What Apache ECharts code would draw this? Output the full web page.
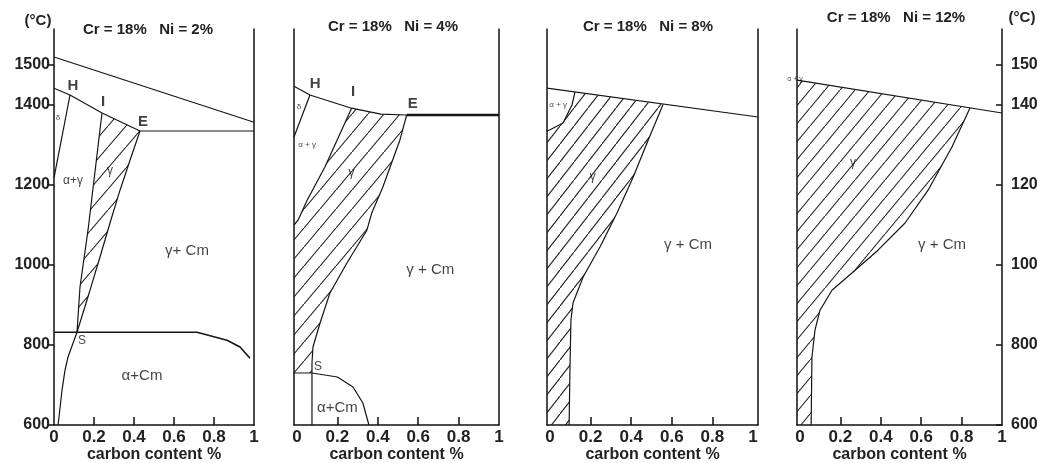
<!DOCTYPE html>
<html>
<head>
<meta charset="utf-8">
<title>Fe-Cr-Ni-C sections</title>
<script src="https://cdn.jsdelivr.net/npm/echarts@6/dist/echarts.min.js"></script>
<style>
  html, body { margin: 0; padding: 0; background: #fff; }
  #chart { width: 1038px; height: 463px; }
</style>
</head>
<body>
<div id="chart"></div>
<script>
// four sections, Cr = 18%, Ni = 2 / 4 / 8 / 12 %
var titles = ['Cr = 18%   Ni = 2%', 'Cr = 18%   Ni = 4%', 'Cr = 18%   Ni = 8%', 'Cr = 18%   Ni = 12%'];
var xTicks = [0, 0.2, 0.4, 0.6, 0.8, 1];
var xInnerTicks = [0.2, 0.4, 0.6, 0.8];
var tempTicks = [600, 800, 1000, 1200, 1400, 1500];

// panel 1 (Ni = 2%)
var p1Liquidus = [[0, 1520], [1, 1357]];
var p1Upper = [[0, 1442], [0.08, 1425], [0.24, 1380], [0.43, 1335]];
var p1Horiz = [[0.43, 1335], [1, 1335]];
var p1H = [[0.08, 1425], [0, 1218]];
var p1GammaLeft = [[0.24, 1380], [0.17, 1087], [0.13, 945], [0.115, 832]];
var p1GammaRight = [[0.43, 1335], [0.38, 1262], [0.33, 1187], [0.28, 1105], [0.23, 1020], [0.18, 937], [0.115, 832]];
var p1BelowS = [[0.115, 832], [0.07, 770], [0.055, 737], [0.04, 687], [0.025, 620], [0.02, 600]];
var p1Eutectoid = [[0, 832], [0.715, 832], [0.865, 812], [0.93, 795], [0.98, 767]];
var p1Text = [[0.665, 1035, 'γ+ Cm'], [0.44, 722, 'α+Cm']];
var p1Letters = [[0.095, 1447, 'H'], [0.245, 1409, 'I'], [0.445, 1359, 'E']];
var p1Small = [[0.28, 1237, 'γ'], [0.095, 1212, 'α+γ'], [0.14, 810, 'S']];
var p1Tiny = [[0.02, 1367, 'δ']];

// panel 2 (Ni = 4%)
var p2Upper = [[-0.015, 1447], [0.064, 1425], [0.27, 1392], [0.415, 1377], [0.543, 1375]];
var p2Horiz = [[0.543, 1375], [1, 1375]];
var p2H = [[0.064, 1425], [-0.015, 1320]];
var p2GammaLeft = [[0.27, 1392], [0.138, 1245], [0.05, 1162], [0.005, 1112], [-0.015, 1100]];
var p2GammaRight = [[0.543, 1375], [0.509, 1312], [0.425, 1195], [0.37, 1130], [0.346, 1087], [0.247, 1005], [0.163, 930], [0.114, 855], [0.079, 795], [0.074, 755], [0.074, 730]];
var p2Eutectoid = [[-0.015, 730], [0.074, 730], [0.2, 720], [0.277, 695], [0.326, 655], [0.356, 600]];
var p2Vertical = [[0.074, 730], [0.074, 600]];
var p2Text = [[0.66, 987, 'γ + Cm'], [0.2, 642, 'α+Cm']];
var p2Letters = [[0.09, 1452, 'H'], [0.277, 1432, 'I'], [0.573, 1402, 'E']];
var p2Small = [[0.27, 1230, 'γ'], [0.104, 745, 'S']];
var p2Tiny = [[0.01, 1395, 'δ'], [0.05, 1300, 'α + γ']];

// panel 3 (Ni = 8%)
var p3Upper = [[-0.015, 1442], [1.025, 1370]];
var p3AlphaGamma = [[0.123, 1432], [0.108, 1400], [0.064, 1355], [0, 1338], [-0.015, 1335]];
var p3GammaRight = [[0.557, 1401], [0.49, 1320], [0.41, 1220], [0.33, 1130], [0.246, 1045], [0.163, 970], [0.113, 905], [0.103, 862], [0.098, 737], [0.094, 600]];
var p3Text = [[0.68, 1050, 'γ + Cm']];
var p3Small = [[0.21, 1220, 'γ']];
var p3Tiny = [[0.04, 1400, 'α + γ']];

// panel 4 (Ni = 12%)
var p4Upper = [[-0.015, 1462], [1, 1380]];
var p4GammaRight = [[0.842, 1393], [0.752, 1295], [0.634, 1187], [0.52, 1105], [0.386, 1037], [0.257, 980], [0.158, 937], [0.099, 887], [0.074, 837], [0.059, 770], [0.055, 600]];
var p4Text = [[0.703, 1050, 'γ + Cm']];
var p4Small = [[0.262, 1255, 'γ']];
var p4Tiny = [[-0.025, 1465, 'α + γ']];

var FONT = 'Liberation Sans, Arial, sans-serif';
var grids = [
  { left: 54, width: 200, xMin: 0, xMax: 1 },
  { left: 294, width: 205, xMin: -0.015, xMax: 1 },
  { left: 547, width: 211, xMin: -0.015, xMax: 1.025 },
  { left: 797, width: 205, xMin: -0.015, xMax: 1 }
];
var titlePos = [[148, 22], [393, 19], [648, 19], [896, 10]];

function hatch(w, h) {
  var c = document.createElement('canvas');
  c.width = w; c.height = h;
  var ctx = c.getContext('2d');
  ctx.strokeStyle = '#222';
  ctx.lineWidth = 1.1;
  ctx.beginPath();
  ctx.moveTo(-w, 2 * h);
  ctx.lineTo(2 * w, -h);
  ctx.stroke();
  return c;
}

function rev(a) { return a.slice().reverse(); }

function lineS(i, data, width) {
  return {
    type: 'line', xAxisIndex: i, yAxisIndex: 2 * i, data: data, symbol: 'none',
    silent: true, z: 3, lineStyle: { color: '#151515', width: width || 1.2 }
  };
}

function hatchS(i, points, pattern) {
  return {
    type: 'custom', xAxisIndex: i, yAxisIndex: 2 * i, data: [[0.5, 1000]], silent: true, z: 1, clip: true,
    renderItem: function (params, api) {
      var pts = points.map(function (p) { return api.coord(p); });
      return {
        type: 'polygon', shape: { points: pts },
        style: { fill: { image: pattern, repeat: 'repeat' }, stroke: null }
      };
    }
  };
}

function textS(i, data, size, weight) {
  return {
    type: 'scatter', xAxisIndex: i, yAxisIndex: 2 * i, symbolSize: 1, silent: true, z: 5, clip: false,
    itemStyle: { color: 'rgba(0,0,0,0)' },
    data: data.map(function (d) { return { value: [d[0], d[1]], name: d[2] }; }),
    label: {
      show: true, position: 'inside', formatter: function (p) { return p.name; },
      color: '#111', fontSize: size, fontWeight: weight || 'normal', fontFamily: FONT
    }
  };
}

var hatchWide = hatch(18, 21);
var hatchA = hatch(16, 19);
var hatchB = hatch(14, 18);
var hatchC = hatch(15, 18);

var p1Poly = p1GammaLeft.concat(rev(p1GammaRight));
var p2Poly = p2GammaLeft.concat([[-0.015, 730]], rev(p2GammaRight), [[0.415, 1377]]);
var p3Poly = [[-0.015, 600]].concat(rev(p3AlphaGamma), p3GammaRight);
var p4Poly = [[-0.015, 600], p4Upper[0]].concat(p4GammaRight);

var xAxes = [], yAxes = [], gridOpts = [];
grids.forEach(function (g, i) {
  gridOpts.push({ left: g.left, width: g.width, top: 29, height: 396, outerBoundsMode: 'none', containLabel: false });
  xAxes.push({
    type: 'value', gridIndex: i, min: g.xMin, max: g.xMax,
    name: 'carbon content %', nameLocation: 'middle', nameGap: 22, nameMoveOverlap: false,
    nameTextStyle: { fontFamily: FONT, fontSize: 16, fontWeight: 'bold', color: '#222' },
    axisLine: { onZero: false, lineStyle: { color: '#111', width: 1.5 } },
    axisTick: { customValues: xInnerTicks, inside: true, length: 8, lineStyle: { color: '#111', width: 1.5 } },
    axisLabel: {
      customValues: xTicks, margin: 4, formatter: function (v) { return String(v); },
      fontFamily: FONT, fontSize: 17, fontWeight: 'bold', color: '#222'
    },
    splitLine: { show: false }
  });
  var leftLabels = i === 0;
  var rightLabels = i === 3;
  yAxes.push({
    type: 'value', gridIndex: i, position: 'left', min: 600, max: 1590,
    axisLine: { show: true, onZero: false, lineStyle: { color: '#111', width: 1.5 } },
    axisTick: { show: leftLabels, customValues: tempTicks, length: 5, lineStyle: { color: '#111', width: 1.5 } },
    axisLabel: {
      show: leftLabels, customValues: tempTicks, margin: 4, formatter: function (v) { return String(v); },
      fontFamily: FONT, fontSize: 16, fontWeight: 'bold', color: '#222'
    },
    splitLine: { show: false }
  });
  yAxes.push({
    type: 'value', gridIndex: i, position: 'right', min: 600, max: 1590,
    axisLine: { show: true, onZero: false, lineStyle: { color: '#111', width: 1.5 } },
    axisTick: { show: rightLabels, inside: true, customValues: tempTicks, length: 6, lineStyle: { color: '#111', width: 1.5 } },
    axisLabel: {
      show: rightLabels, customValues: tempTicks, margin: 9, formatter: function (v) { return String(v); },
      fontFamily: FONT, fontSize: 16, fontWeight: 'bold', color: '#222'
    },
    splitLine: { show: false }
  });
});

var titleOpts = titles.map(function (t, i) {
  return {
    text: t, left: titlePos[i][0], top: titlePos[i][1], textAlign: 'center', padding: 0,
    textStyle: { fontFamily: FONT, fontSize: 15, fontWeight: 'bold', color: '#222' }
  };
});
titleOpts.push({ text: '(°C)', left: 38, top: 13, textAlign: 'center', padding: 0,
  textStyle: { fontFamily: FONT, fontSize: 15, fontWeight: 'bold', color: '#222' } });
titleOpts.push({ text: '(°C)', left: 1022, top: 10, textAlign: 'center', padding: 0,
  textStyle: { fontFamily: FONT, fontSize: 15, fontWeight: 'bold', color: '#222' } });

var series = [
  hatchS(0, p1Poly, hatchWide),
  lineS(0, p1Liquidus), lineS(0, p1Upper), lineS(0, p1Horiz), lineS(0, p1H),
  lineS(0, p1GammaLeft), lineS(0, p1GammaRight), lineS(0, p1BelowS), lineS(0, p1Eutectoid, 1.6),
  textS(0, p1Text, 15), textS(0, p1Letters, 15, 'bold'), textS(0, p1Small, 12), textS(0, p1Tiny, 8),

  hatchS(1, p2Poly, hatchA),
  lineS(1, p2Upper), lineS(1, p2Horiz, 2.6), lineS(1, p2H), lineS(1, p2GammaLeft), lineS(1, p2GammaRight),
  lineS(1, p2Eutectoid), lineS(1, p2Vertical),
  textS(1, p2Text, 15), textS(1, p2Letters, 15, 'bold'), textS(1, p2Small, 12), textS(1, p2Tiny, 8),

  hatchS(2, p3Poly, hatchB),
  lineS(2, p3Upper), lineS(2, p3AlphaGamma), lineS(2, p3GammaRight),
  textS(2, p3Text, 15), textS(2, p3Small, 12), textS(2, p3Tiny, 8),

  hatchS(3, p4Poly, hatchC),
  lineS(3, p4Upper), lineS(3, p4GammaRight),
  textS(3, p4Text, 15), textS(3, p4Small, 12), textS(3, p4Tiny, 7)
];

var chart = echarts.init(document.getElementById('chart'));
chart.setOption({
  animation: false,
  backgroundColor: '#fff',
  title: titleOpts,
  grid: gridOpts,
  xAxis: xAxes,
  yAxis: yAxes,
  series: series
});
</script>
</body>
</html>
